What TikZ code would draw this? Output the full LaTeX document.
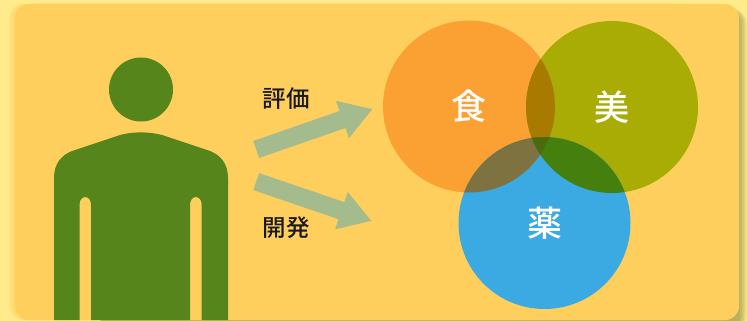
\documentclass[tikz,border=0pt]{standalone}
\usepackage{fontspec}
\newfontfamily\jpfont{Noto Sans CJK JP Medium}
\usetikzlibrary{arrows.meta}
\definecolor{paper}{HTML}{FFEB8C}
\definecolor{edgeshade}{HTML}{8F8A40}
\definecolor{card}{HTML}{FFCF5E}
\definecolor{person}{HTML}{56851B}
\definecolor{arrowcol}{HTML}{A4BB8E}
\definecolor{foodcol}{HTML}{FBA033}
\definecolor{beautycol}{HTML}{A9AC05}
\definecolor{medcol}{HTML}{3BA9E2}
\begin{document}
\begin{tikzpicture}[x=1pt,y=-1pt,
  ring/.style={circle,fill=#1,text=white,inner sep=0pt,minimum size=172pt,font=\jpfont\fontsize{35}{35}\selectfont},
  word/.style={text=black!90,inner sep=0pt,font=\jpfont\fontsize{23.5}{23.5}\selectfont},
  flow/.style={draw=arrowcol,line width=18pt,-{Triangle[length=32pt,width=37pt]}}]

  \useasboundingbox (0,0) rectangle (747,321);
  \fill[paper] (0,0) rectangle (747,321);

  % soft edge round the card
  \begin{scope}
    \clip (0,0) rectangle (747,321);
    \foreach \d in {7,5,3,1}
      \fill[edgeshade,opacity=.2,rounded corners=14pt] (100,9) rectangle (739+\d,330);
    \foreach \d in {6,4,2}
      \fill[card,opacity=.25,rounded corners=14pt] (15-\d,4) rectangle (700,320);
    \fill[card,rounded corners=14pt] (15,4) rectangle (739,320);
  \end{scope}

  % person
  \node[circle,fill=person,inner sep=0pt,minimum size=64pt] (head) at (141,89.5){};
  \fill[person] (54,320) -- (54,178)
    .. controls (54,163) and (62,155) .. (72,151) -- (120,135)
    .. controls (133,131.5) and (149,131.5) .. (162,135) -- (210,151)
    .. controls (220,155) and (228,163) .. (228,178) -- (228,320)
    -- (201.7,320) -- (201.7,205)
    .. controls (201.7,200) and (199,197) .. (195.8,197)
    .. controls (192.7,197) and (190,200) .. (190,205) -- (190,320)
    -- (91,320) -- (91,205)
    .. controls (91,200) and (88.5,197) .. (85.2,197)
    .. controls (82,197) and (79.5,200) .. (79.5,205) -- (79.5,320) -- cycle;

  % arrows
  \coordinate (up0) at (256.2,149.5);
  \coordinate (up1) at (372.7,109);
  \coordinate (down0) at (256.2,181.6);
  \coordinate (down1) at (371.7,221);
  \draw[flow] (up0) -- (up1);
  \draw[flow] (down0) -- (down1);
  \node[word] (eval) at (286,99){評価};
  \node[word] (dev) at (286,228){開発};

  % circles
  \node[ring=foodcol] (food) at (469,106.5){食};
  \node[ring=beautycol] (beauty) at (612,107){美};
  \node[ring=medcol] (med) at (544.5,223){薬};

  % overlaps
  \begin{scope}
    \clip (food.center) circle (86);
    \fill[color={rgb,255:red,168;green,122;blue,0}] (beauty.center) circle (86);
    \fill[color={rgb,255:red,126;green,114;blue,64}] (med.center) circle (86);
  \end{scope}
  \begin{scope}
    \clip (beauty.center) circle (86);
    \fill[color={rgb,255:red,69;green,128;blue,15}] (med.center) circle (86);
    \clip (food.center) circle (86);
    \fill[color={rgb,255:red,74;green,106;blue,16}] (med.center) circle (86);
  \end{scope}
\end{tikzpicture}
\end{document}
